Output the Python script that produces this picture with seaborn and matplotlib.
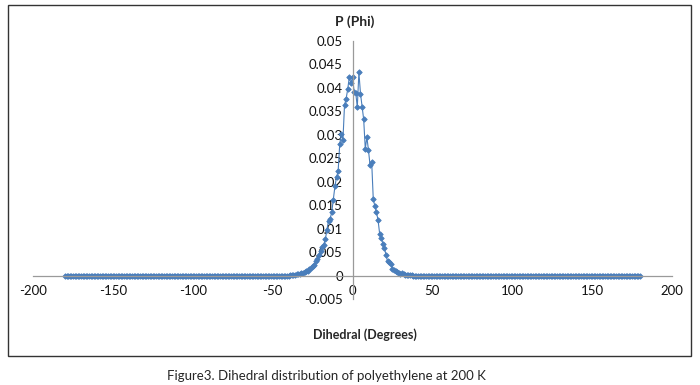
import numpy as np
import pandas as pd
import matplotlib
matplotlib.use('Agg')
import matplotlib.pyplot as plt
import seaborn as sns
from matplotlib.patches import Rectangle

# dihedral angle bins, 1 degree apart
angles = np.arange(-180, 181)

# P(phi): flat zero tails, peak between -40 and 40 deg
left_tail = [0.0] * 140
peak = [
    0.0000, 0.0001, 0.0001, 0.0002, 0.0002, 0.0003, 0.0004, 0.0003, 0.0006, 0.0005,   # -40..-31
    0.0008, 0.0010, 0.0009, 0.0013, 0.0016, 0.0020, 0.0023, 0.0030, 0.0036, 0.0044,   # -30..-21
    0.0052, 0.0060, 0.0066, 0.0077, 0.0098, 0.0117, 0.0121, 0.0135, 0.0162, 0.0190,   # -20..-11
    0.0210, 0.0222, 0.0280, 0.0302, 0.0288, 0.0363, 0.0377, 0.0397, 0.0423, 0.0410,   # -10..-1
    0.0423,                                                                           # 0
    0.0392, 0.0390, 0.0359, 0.0433, 0.0388, 0.0360, 0.0333, 0.0270, 0.0295, 0.0267,   # 1..10
    0.0235, 0.0243, 0.0163, 0.0148, 0.0135, 0.0118, 0.0089, 0.0081, 0.0068, 0.0059,   # 11..20
    0.0043, 0.0030, 0.0028, 0.0025, 0.0015, 0.0012, 0.0010, 0.0007, 0.0006, 0.0004,   # 21..30
    0.0005, 0.0003, 0.0002, 0.0002, 0.0001, 0.0001, 0.0001, 0.0000, 0.0000, 0.0000,   # 31..40
]
right_tail = [0.0] * 140

y_ticks = [-0.005, 0, 0.005, 0.01, 0.015, 0.02, 0.025, 0.03, 0.035, 0.04, 0.045, 0.05]
y_labels = ['-0.005', '0', '0.005', '0.01', '0.015', '0.02', '0.025', '0.03', '0.035', '0.04', '0.045', '0.05']
x_ticks = [-200, -150, -100, -50, 0, 50, 100, 150, 200]

df = pd.DataFrame({'phi': angles, 'P': left_tail + peak + right_tail})

sns.set_style('white')
plt.rcParams['font.family'] = ['Lato', 'DejaVu Sans']
plt.rcParams['axes.unicode_minus'] = False

fig = plt.figure(figsize=(7, 3.85), dpi=100)
ax = fig.add_axes([33/700, 1 - 299/385, (672 - 33)/700, (299 - 41)/385])

blue = '#4A7EBB'
sns.lineplot(data=df, x='phi', y='P', ax=ax, color=blue, lw=0.8,
             marker='D', markersize=2.8, markeredgecolor=blue, markerfacecolor=blue,
             markeredgewidth=0.6)

ax.set_xlim(-200, 200)
ax.set_ylim(-0.005, 0.05)
ax.set_xticks(x_ticks)
ax.set_yticks(y_ticks)
ax.set_yticklabels(y_labels)
ax.set_xlabel('')
ax.set_ylabel('')

# excel style axes crossing at the origin
for s in ['top', 'right']:
    ax.spines[s].set_visible(False)
ax.spines['left'].set_position(('data', 0))
ax.spines['bottom'].set_position(('data', 0))
for s in ['left', 'bottom']:
    ax.spines[s].set_color('#9a9a9a')
    ax.spines[s].set_linewidth(0.9)
ax.tick_params(axis='both', direction='out', length=4, width=0.9, color='#9a9a9a',
               labelsize=9.5, labelcolor='#111111', pad=3)

fig.text(355/700, 1 - 22/385, 'P (Phi)', ha='center', va='center',
         fontsize=10, fontweight='bold')
fig.text(365/700, 1 - 335/385, 'Dihedral (Degrees)', ha='center', va='center',
         fontsize=9, fontweight='bold')
fig.text(326/700, 1 - 376/385, 'Figure3. Dihedral distribution of polyethylene at 200 K',
         ha='center', va='center', fontsize=9.5)

fig.add_artist(Rectangle((8/700, 1 - 356/385), (691 - 8)/700, (356 - 5)/385,
                         transform=fig.transFigure, fill=False, ec='#333333', lw=1))

fig.savefig('out.png', dpi=100)
